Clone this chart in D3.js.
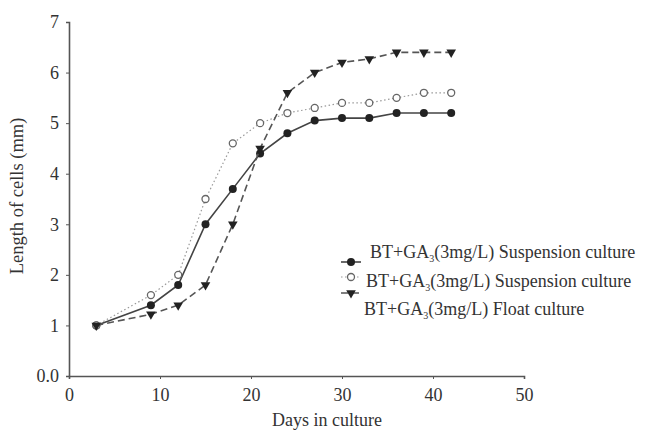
<!DOCTYPE html>
<html>
<head>
<meta charset="utf-8">
<script src="https://cdn.jsdelivr.net/npm/d3@7"></script>
<style>
  body { margin: 0; background: #fff; }
  text { font-family: "Liberation Serif", "DejaVu Serif", serif; fill: #333; }
</style>
</head>
<body>
<div id="chart"></div>
<script>
// days of culture
const days = [3, 9, 12, 15, 18, 21, 24, 27, 30, 33, 36, 39, 42];
// filled circles, solid line
const suspA = [1.0, 1.4, 1.8, 3.0, 3.7, 4.4, 4.8, 5.05, 5.1, 5.1, 5.2, 5.2, 5.2];
// open circles, dotted line
const suspB = [1.0, 1.6, 2.0, 3.5, 4.6, 5.0, 5.2, 5.3, 5.4, 5.4, 5.5, 5.6, 5.6];
// triangles, dashed line
const floatC = [1.0, 1.22, 1.4, 1.8, 3.0, 4.5, 5.6, 6.0, 6.2, 6.27, 6.4, 6.4, 6.4];

const xTicks = [0, 10, 20, 30, 40, 50];
const yTicks = [0, 1, 2, 3, 4, 5, 6, 7];

const width = 647, height = 430;

let svg = d3.select("#chart").append("svg")
    .attr("width", width)
    .attr("height", height);

const x = d3.scaleLinear().domain([0, 50]).range([69, 524]);
const y = d3.scaleLinear().domain([0, 7]).range([376, 22]);

// axes
let xAxis = svg.append("g")
    .attr("transform", `translate(0,${y(0)})`)
    .call(d3.axisBottom(x).tickValues(xTicks).tickSize(3).tickPadding(9));
let yAxis = svg.append("g")
    .attr("transform", `translate(${x(0)},0)`)
    .call(d3.axisLeft(y).tickValues(yTicks).tickSize(3).tickPadding(7)
      .tickFormat(d => d == 0 ? "0.0" : d));

[xAxis, yAxis].forEach(a => {
  a.select(".domain").attr("stroke", "#555").attr("stroke-width", 1.6);
  a.selectAll(".tick line").attr("stroke", "#555");
  a.selectAll(".tick text").style("font-size", "18px").attr("fill", "#444")
    .style("font-family", "'Liberation Serif', serif");
});

svg.append("text")
    .attr("x", 327).attr("y", 426)
    .attr("text-anchor", "middle")
    .style("font-size", "18px")
    .text("Days in culture");

svg.append("text")
    .attr("transform", "translate(23,196) rotate(-90)")
    .attr("text-anchor", "middle")
    .style("font-size", "18.5px")
    .text("Length of cells (mm)");

const series = [
  {vals: suspA, dash: null, color: "#444", width: 1.6, marker: "fill"},
  {vals: suspB, dash: "1.5,2.5", color: "#999", width: 1.2, marker: "open"},
  {vals: floatC, dash: "7,4", color: "#555", width: 1.6, marker: "tri"}
];

const line = d3.line().x(d => x(d[0])).y(d => y(d[1]));
const tri = d3.symbol().type(d3.symbolTriangle).size(40);

function drawMarker(g, kind, cx, cy) {
  if (kind == "fill") {
    g.append("circle").attr("cx", cx).attr("cy", cy).attr("r", 4).attr("fill", "#222");
  } else if (kind == "open") {
    g.append("circle").attr("cx", cx).attr("cy", cy).attr("r", 3.5)
      .attr("fill", "#fff").attr("stroke", "#666").attr("stroke-width", 1.3);
  } else {
    g.append("path").attr("d", tri)
      .attr("transform", `translate(${cx},${cy}) rotate(180)`)
      .attr("fill", "#222");
  }
}

series.forEach(s => {
  let pts = days.map((d, i) => [d, s.vals[i]]);
  svg.append("path")
    .datum(pts)
    .attr("d", line)
    .attr("fill", "none")
    .attr("stroke", s.color)
    .attr("stroke-width", s.width)
    .attr("stroke-dasharray", s.dash);
  let g = svg.append("g");
  pts.forEach(p => drawMarker(g, s.marker, x(p[0]), y(p[1])));
});

// legend
const legend = [
  {label: "Suspension culture", my: 262, ty: 258, tx: 370},
  {label: "Suspension culture", my: 277, ty: 287, tx: 366},
  {label: "Float culture", my: 293, ty: 315, tx: 364}
];
let lg = svg.append("g");
legend.forEach((l, i) => {
  let s = series[i];
  lg.append("line")
    .attr("x1", 341).attr("x2", 361)
    .attr("y1", l.my).attr("y2", l.my)
    .attr("stroke", s.color).attr("stroke-width", s.width)
    .attr("stroke-dasharray", s.dash);
  drawMarker(lg, s.marker, 351, l.my);
  let t = lg.append("text").attr("x", l.tx).attr("y", l.ty).style("font-size", "18px");
  t.append("tspan").text("BT+GA");
  t.append("tspan").attr("dy", 4).style("font-size", "10px").text("3");
  t.append("tspan").attr("dy", -4).text("(3mg/L) " + l.label);
});
</script>
</body>
</html>
